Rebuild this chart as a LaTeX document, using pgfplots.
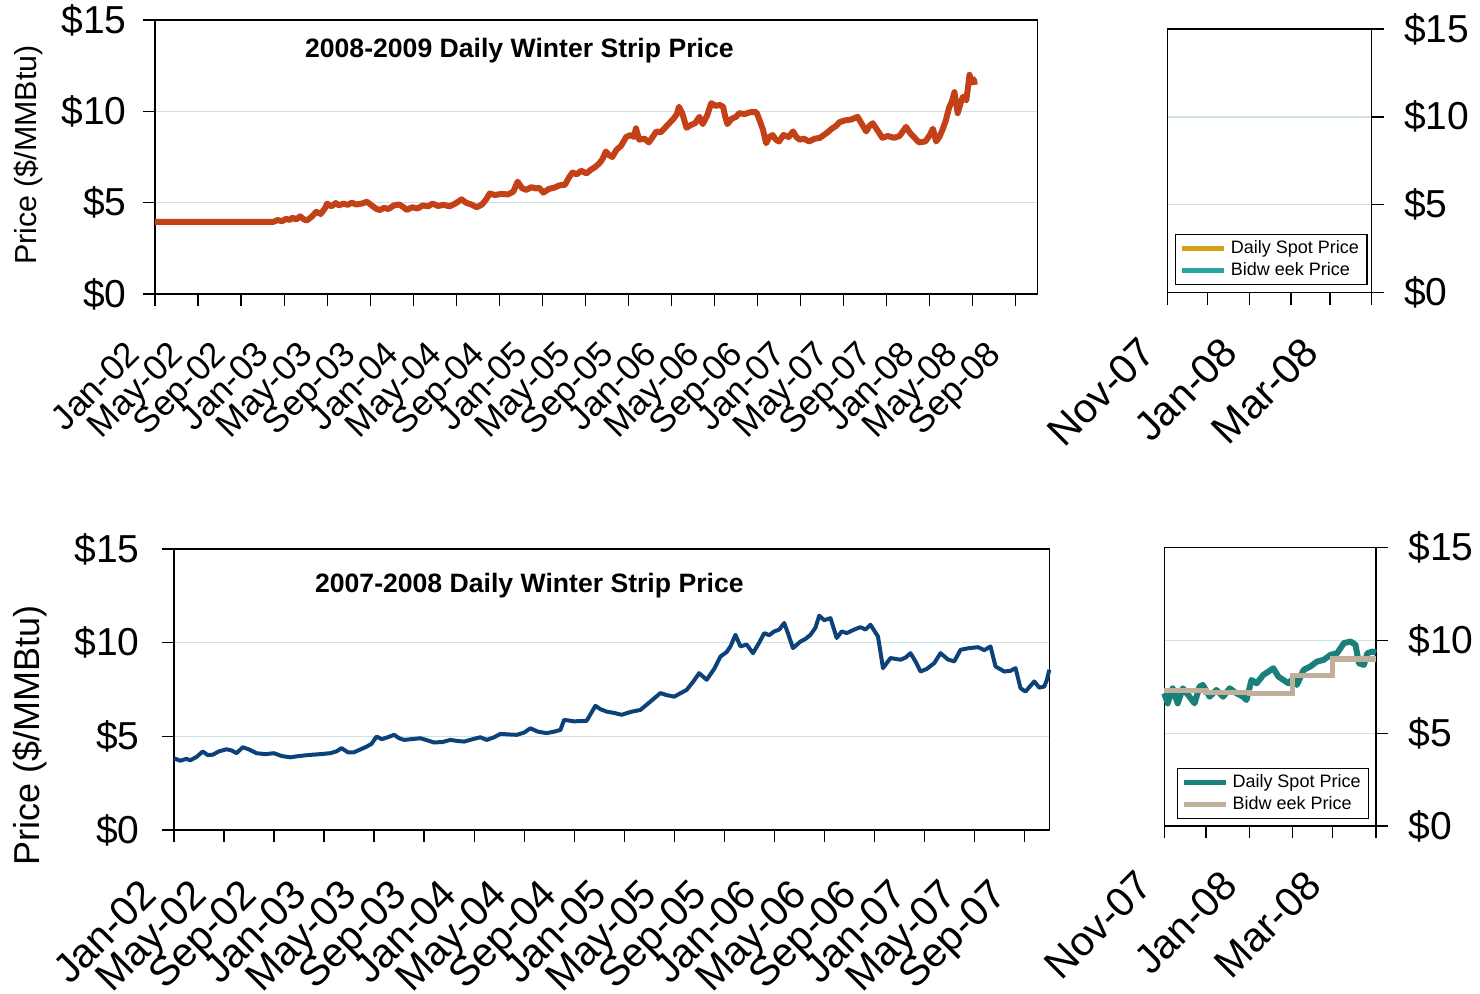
\documentclass[border=0pt]{standalone}
\usepackage{fontspec}
\setmainfont{Liberation Sans}
\usepackage{pgfplots}
\pgfplotsset{compat=1.18}
\newcommand{\fs}[1]{\fontsize{#1}{#1}\selectfont}
\definecolor{orangered}{RGB}{196,64,22}
\definecolor{navyc}{RGB}{12,66,122}
\definecolor{goldc}{RGB}{214,160,26}
\definecolor{tealA}{RGB}{40,165,160}
\definecolor{tealB}{RGB}{28,128,122}
\definecolor{tanc}{RGB}{192,176,155}
\definecolor{gridc}{RGB}{208,226,230}
\pgfplotsset{
  base/.style={
    scale only axis, anchor=south west, clip=false,
    /pgf/number format/assume math mode=true,
    ymin=0, ymax=15, ytick={0,5,10,15}, yticklabels={\$0,\$5,\$10,\$15},
    ymajorgrids, grid style={gridc, line width=0.6pt},
    axis line style={black, line width=0.6pt},
    tick align=outside, major tick length=6pt,
    major tick style={black, line width=0.6pt},
    xtick pos=bottom,
    legend cell align=left,
    legend image code/.code={\draw[##1, line width=2.6pt] (0pt,0pt) -- (21pt,0pt);},
  }
}
\begin{document}
\begin{tikzpicture}
\path[use as bounding box] (0,0) rectangle (740pt,496.5pt);

% ---------- top-left ----------
\begin{axis}[base, at={(77.5pt,349.5pt)}, width=441.15pt, height=137pt,
  xmin=0, xmax=82, xtick={0,4,...,80},
  xticklabels={Jan-02,May-02,Sep-02,Jan-03,May-03,Sep-03,Jan-04,May-04,Sep-04,Jan-05,May-05,Sep-05,Jan-06,May-06,Sep-06,Jan-07,May-07,Sep-07,Jan-08,May-08,Sep-08},
  xticklabel style={font=\fs{17.6}, inner sep=0pt, xshift=-6.5pt, yshift=-25pt, rotate=45, anchor=base east},
  ytick pos=left,
  yticklabel style={font=\fs{19.5}, inner sep=0pt, anchor=east, xshift=-8pt},
  ylabel={Price (\$/MMBtu)},
  ylabel style={font=\fs{15.2}, at={(rel axis cs:-0.144,0.507)}, anchor=center},
]
\addplot[orangered, line width=3pt, line join=round] coordinates {
(0,3.95)(11,3.95)(11.4,4.05)(11.8,3.98)(12.2,4.12)(12.5,4.05)(12.8,4.18)(13.1,4.08)(13.5,4.25)(13.8,4.1)(14.1,4.02)(14.5,4.2)(15,4.5)(15.4,4.38)(15.8,4.7)(16,4.95)(16.4,4.8)(16.8,4.98)(17.1,4.85)(17.5,4.95)(17.9,4.88)(18.3,5.0)(18.7,4.9)(19.2,4.95)(19.7,5.05)(20.2,4.82)(20.6,4.65)(20.9,4.6)(21.3,4.72)(21.7,4.65)(22.2,4.85)(22.7,4.9)(23.1,4.75)(23.4,4.6)(23.9,4.75)(24.4,4.68)(24.9,4.85)(25.4,4.8)(25.8,4.95)(26.3,4.82)(26.8,4.88)(27.4,4.8)(27.9,4.95)(28.5,5.18)(28.9,5.0)(29.4,4.9)(29.9,4.75)(30.4,4.9)(30.8,5.2)(31.1,5.5)(31.6,5.42)(32.2,5.48)(32.8,5.45)(33.3,5.6)(33.7,6.15)(34.1,5.8)(34.5,5.7)(35,5.85)(35.4,5.78)(35.7,5.82)(36.1,5.55)(36.6,5.75)(37.1,5.82)(37.6,5.95)(38.1,5.98)(38.5,6.4)(38.8,6.65)(39.2,6.55)(39.6,6.75)(40.1,6.6)(40.5,6.8)(40.9,6.95)(41.3,7.15)(41.6,7.4)(41.9,7.8)(42.2,7.6)(42.5,7.5)(42.9,7.9)(43.3,8.1)(43.8,8.6)(44.2,8.7)(44.5,8.6)(44.7,9.07)(45,8.45)(45.5,8.5)(45.9,8.3)(46.2,8.55)(46.6,8.9)(47,8.85)(47.4,9.1)(47.8,9.35)(48.2,9.6)(48.5,9.85)(48.7,10.25)(49,9.9)(49.2,9.5)(49.4,9.1)(49.8,9.25)(50.2,9.35)(50.6,9.7)(50.9,9.3)(51.3,9.75)(51.7,10.45)(52.1,10.3)(52.5,10.35)(52.8,10.25)(53,9.7)(53.2,9.3)(53.6,9.6)(54,9.7)(54.3,9.9)(54.8,9.85)(55.3,9.95)(55.9,9.95)(56.2,9.5)(56.5,9.0)(56.8,8.25)(57.1,8.6)(57.4,8.7)(57.7,8.45)(58,8.35)(58.4,8.7)(58.9,8.6)(59.3,8.9)(59.6,8.6)(59.9,8.45)(60.3,8.5)(60.8,8.35)(61.3,8.5)(61.8,8.55)(62.4,8.8)(62.9,9.05)(63.3,9.2)(63.6,9.4)(64.1,9.5)(64.7,9.55)(65.3,9.7)(65.7,9.3)(66.1,8.9)(66.4,9.2)(66.7,9.35)(67.1,9.0)(67.6,8.55)(68.1,8.65)(68.7,8.55)(69.2,8.65)(69.8,9.15)(70.2,8.8)(70.6,8.55)(71,8.3)(71.6,8.35)(72,8.7)(72.3,9.05)(72.6,8.35)(72.9,8.6)(73.2,9.0)(73.5,9.5)(73.8,10.2)(74.1,10.6)(74.3,11.05)(74.6,9.9)(74.9,10.5)(75.1,10.8)(75.4,10.6)(75.6,11.5)(75.7,12.0)(75.9,11.6)(76.1,11.75)(76.2,11.45)
};
\node[font=\bfseries\fs{13.3}, anchor=base] at (rel axis cs:0.413,0.863) {2008-2009 Daily Winter Strip Price};
\end{axis}

% ---------- top-right ----------
\begin{axis}[base, at={(583.65pt,350.15pt)}, width=102.2pt, height=131.85pt,
  xmin=0, xmax=152, xtick={0,30,61,92,121,152},
  xticklabels={Nov-07,,Jan-08,,Mar-08,},
  xticklabel style={font=\fs{20.5}, inner sep=0pt, xshift=-4.5pt, yshift=-25pt, rotate=45, anchor=base east},
  ytick pos=right, yticklabel pos=right,
  yticklabel style={font=\fs{19.5}, inner sep=0pt, anchor=west, xshift=10pt},
  legend style={at={(rel axis cs:0.038,0.029)}, anchor=south west, draw=black, line width=0.6pt,
    font=\fs{9}, inner xsep=2pt, inner ysep=1pt, row sep=-1pt},
]
\addlegendimage{goldc}
\addlegendentry{Daily Spot Price}
\addlegendimage{tealA}
\addlegendentry{Bidw eek Price}
\end{axis}

% ---------- bottom-left ----------
\begin{axis}[base, at={(87pt,81.5pt)}, width=437.65pt, height=140.5pt,
  xmin=0, xmax=70, xtick={0,4,...,68},
  xticklabels={Jan-02,May-02,Sep-02,Jan-03,May-03,Sep-03,Jan-04,May-04,Sep-04,Jan-05,May-05,Sep-05,Jan-06,May-06,Sep-06,Jan-07,May-07,Sep-07},
  xticklabel style={font=\fs{20.5}, inner sep=0pt, xshift=-7.5pt, yshift=-27.5pt, rotate=45, anchor=base east},
  ytick pos=left,
  yticklabel style={font=\fs{19.5}, inner sep=0pt, anchor=east, xshift=-11pt},
  ylabel={Price (\$/MMBtu)},
  ylabel style={font=\fs{18}, at={(rel axis cs:-0.1645,0.338)}, anchor=center},
]
\addplot[navyc, line width=2pt, line join=round] coordinates {
(0,3.83)(0.5,3.7)(1,3.8)(1.3,3.72)(1.8,3.9)(2.3,4.19)(2.7,4.0)(3.1,4.02)(3.6,4.2)(4.2,4.31)(4.6,4.25)(5,4.1)(5.5,4.42)(6,4.3)(6.6,4.1)(7.3,4.05)(8,4.1)(8.6,3.95)(9.3,3.88)(10,3.95)(10.9,4.01)(11.7,4.05)(12.5,4.1)(13,4.2)(13.4,4.37)(13.9,4.15)(14.4,4.15)(14.9,4.3)(15.4,4.45)(15.8,4.6)(16.2,4.99)(16.6,4.85)(17.1,4.95)(17.6,5.08)(18,4.9)(18.4,4.81)(19,4.85)(19.7,4.9)(20.2,4.8)(20.8,4.67)(21.5,4.7)(22.1,4.81)(22.7,4.75)(23.2,4.72)(23.9,4.85)(24.5,4.95)(25,4.81)(25.6,4.95)(26.1,5.13)(26.8,5.1)(27.4,5.08)(28,5.2)(28.5,5.43)(29.1,5.25)(29.8,5.17)(30.4,5.25)(30.9,5.34)(31.2,5.88)(32,5.8)(33,5.83)(33.7,6.63)(34.1,6.45)(34.6,6.32)(35.2,6.25)(35.8,6.15)(36.5,6.3)(37.3,6.41)(38,6.8)(38.9,7.31)(39.4,7.2)(40,7.12)(40.5,7.3)(41,7.48)(41.5,7.9)(42,8.37)(42.6,8.02)(43.2,8.6)(43.7,9.26)(44.2,9.5)(44.5,9.8)(44.9,10.42)(45.3,9.8)(45.8,9.9)(46.3,9.44)(46.8,10.0)(47.2,10.51)(47.6,10.4)(48,10.6)(48.4,10.7)(48.8,11.05)(49.1,10.5)(49.5,9.71)(50.1,10.06)(50.5,10.2)(50.9,10.42)(51.3,10.8)(51.6,11.44)(52,11.2)(52.5,11.31)(53,10.25)(53.4,10.6)(53.8,10.51)(54.4,10.7)(54.9,10.83)(55.3,10.7)(55.7,10.96)(56.3,10.33)(56.7,8.64)(57.3,9.18)(58.1,9.09)(58.5,9.2)(58.9,9.44)(59.3,9.0)(59.7,8.46)(60.2,8.6)(60.8,8.91)(61.3,9.44)(61.9,9.1)(62.4,9.0)(62.9,9.62)(63.5,9.7)(64.3,9.76)(64.8,9.6)(65.3,9.8)(65.7,8.73)(66.4,8.46)(66.9,8.5)(67.3,8.64)(67.7,7.57)(68.1,7.39)(68.5,7.7)(68.8,7.93)(69.2,7.6)(69.6,7.66)(69.8,8.0)(70,8.55)
};
\node[font=\bfseries\fs{13.3}, anchor=base] at (rel axis cs:0.406,0.845) {2007-2008 Daily Winter Strip Price};
\end{axis}

% ---------- bottom-right ----------
\begin{axis}[base, at={(582.15pt,83.5pt)}, width=105.85pt, height=139.35pt,
  xmin=0, xmax=152, xtick={0,30,61,92,121,152},
  xticklabels={Nov-07,,Jan-08,,Mar-08,},
  xticklabel style={font=\fs{20.5}, inner sep=0pt, xshift=-4.5pt, yshift=-25pt, rotate=45, anchor=base east},
  ytick pos=right, yticklabel pos=right,
  yticklabel style={font=\fs{19.5}, inner sep=0pt, anchor=west, xshift=10pt},
  legend style={at={(rel axis cs:0.0586,0.024)}, anchor=south west, draw=black, line width=0.6pt,
    font=\fs{9}, inner xsep=2pt, inner ysep=1pt, row sep=-1pt},
]
\addplot[tealB, line width=3pt, line join=round] coordinates {
(0,7.14)(2.4,6.6)(6,7.41)(9.6,6.6)(13.3,7.41)(18.1,6.96)(21.7,6.6)(25.3,7.5)(27.7,7.59)(32.5,6.96)(37.3,7.32)(42.2,6.96)(47,7.41)(51.8,7.14)(56.6,6.96)(59,6.78)(62.6,7.86)(66.3,7.68)(71.1,8.13)(74.7,8.31)(78.3,8.49)(81.9,8.04)(85.5,7.86)(89.1,7.68)(92.7,7.95)(95.2,7.59)(100,8.4)(104.8,8.58)(109.6,8.85)(114.4,8.94)(119.3,9.21)(124.1,9.3)(128.9,9.84)(133.7,9.93)(137.3,9.75)(139.7,8.76)(143.3,8.67)(145.8,9.3)(149.4,9.39)(152,9.33)
};
\addlegendentry{Daily Spot Price}
\addplot[tanc, line width=2.6pt, const plot] coordinates {
(0,7.29)(30,7.2)(61,7.14)(92,8.09)(121,8.99)(152,8.99)
};
\addlegendentry{Bidw eek Price}
\end{axis}
\end{tikzpicture}
\end{document}
